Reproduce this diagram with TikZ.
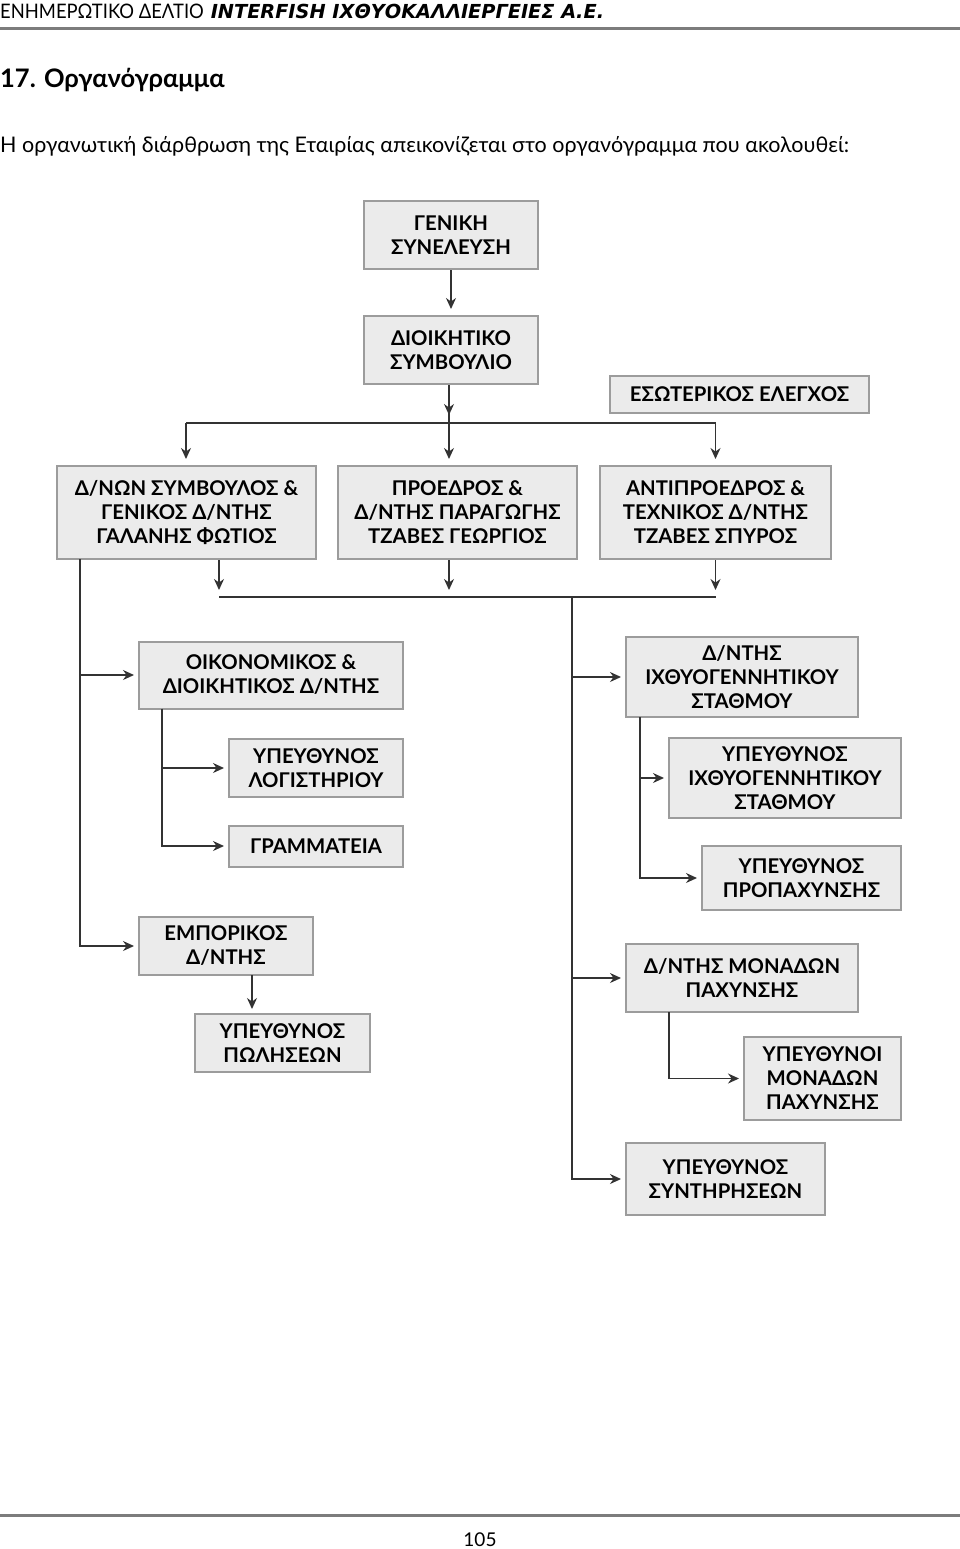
\documentclass[tikz,border=0pt]{standalone}
\usepackage{fontspec}
\setmainfont{Lato}
\newfontfamily\hdrfont{DejaVu Sans}
\newfontfamily\hdrnarrow[FakeStretch=0.92]{Lato}
\usetikzlibrary{arrows.meta,calc}

\definecolor{boxfill}{HTML}{EBEBEB}
\definecolor{boxline}{HTML}{9C9C9C}
\definecolor{wire}{HTML}{333333}
\definecolor{rulegray}{HTML}{7C7C7C}

\tikzset{
  unit/.style={draw=boxline, line width=2pt, fill=boxfill, align=center,
    inner sep=0pt, font=\bfseries\fontsize{20.3}{24}\selectfont},
  link/.style={-{Stealth[length=11pt,width=10pt]}, draw=wire, line width=1.4pt, shorten >=4pt},
  wireline/.style={draw=wire, line width=1.4pt}
}

\begin{document}
\begin{tikzpicture}[x=1pt, y=-1pt]
  \useasboundingbox (0,0) rectangle (960,1549);

  % page header and footer
  \node[anchor=west, inner sep=0pt] (hdr) at (0,11)
    {{\hdrnarrow\fontsize{20}{22}\selectfont ΕΝΗΜΕΡΩΤΙΚΟ ΔΕΛΤΙΟ}\enspace\kern2pt{\hdrfont\bfseries\itshape\fontsize{19.3}{22}\selectfont INTERFISH ΙΧΘΥΟΚΑΛΛΙΕΡΓΕΙΕΣ Α.Ε.}};
  \coordinate (rtl) at (0,29);
  \coordinate (rtr) at (960,29);
  \draw[rulegray, line width=3pt] (rtl) -- (rtr);
  \node[anchor=west, inner sep=0pt] (title) at (0,80)
    {\bfseries\fontsize{25.5}{30}\selectfont 17. Οργανόγραμμα};
  \node[anchor=west, inner sep=0pt] (intro) at (0,146)
    {\fontsize{21.5}{26}\selectfont Η οργανωτική διάρθρωση της Εταιρίας απεικονίζεται στο οργανόγραμμα που ακολουθεί:};
  \coordinate (rbl) at (0,1515);
  \coordinate (rbr) at (960,1515);
  \draw[rulegray, line width=3pt] (rbl) -- (rbr);
  \node[inner sep=0pt] (pageno) at (480,1540) {\fontsize{19}{22}\selectfont 105};

  % boxes
  \node[unit, minimum width=174pt, minimum height=68pt] (gs) at (451,235) {ΓΕΝΙΚΗ\\ΣΥΝΕΛΕΥΣΗ};
  \node[unit, minimum width=174pt, minimum height=68pt] (ds) at (451,350) {ΔΙΟΙΚΗΤΙΚΟ\\ΣΥΜΒΟΥΛΙΟ};
  \node[unit, minimum width=259pt, minimum height=37pt] (ee) at (739.5,394.5) {ΕΣΩΤΕΡΙΚΟΣ ΕΛΕΓΧΟΣ};

  \node[unit, minimum width=259pt, minimum height=93pt] (fotios) at (186.5,512.5)
    {Δ/ΝΩΝ ΣΥΜΒΟΥΛΟΣ \&\\ΓΕΝΙΚΟΣ Δ/ΝΤΗΣ\\ΓΑΛΑΝΗΣ ΦΩΤΙΟΣ};
  \node[unit, minimum width=239pt, minimum height=93pt] (georgios) at (457.5,512.5)
    {ΠΡΟΕΔΡΟΣ \&\\Δ/ΝΤΗΣ ΠΑΡΑΓΩΓΗΣ\\ΤΖΑΒΕΣ ΓΕΩΡΓΙΟΣ};
  \node[unit, minimum width=231pt, minimum height=93pt] (spyros) at (715.5,512.5)
    {ΑΝΤΙΠΡΟΕΔΡΟΣ \&\\ΤΕΧΝΙΚΟΣ Δ/ΝΤΗΣ\\ΤΖΑΒΕΣ ΣΠΥΡΟΣ};

  \node[unit, minimum width=264pt, minimum height=67pt] (oikon) at (271,675) {ΟΙΚΟΝΟΜΙΚΟΣ \&\\ΔΙΟΙΚΗΤΙΚΟΣ Δ/ΝΤΗΣ};
  \node[unit, minimum width=174pt, minimum height=58pt] (logist) at (316,768) {ΥΠΕΥΘΥΝΟΣ\\ΛΟΓΙΣΤΗΡΙΟΥ};
  \node[unit, minimum width=174pt, minimum height=41pt] (gramm) at (316,846) {ΓΡΑΜΜΑΤΕΙΑ};
  \node[unit, minimum width=174pt, minimum height=58pt] (empor) at (226,946) {ΕΜΠΟΡΙΚΟΣ\\Δ/ΝΤΗΣ};
  \node[unit, minimum width=175pt, minimum height=58pt] (poliseon) at (282.5,1043) {ΥΠΕΥΘΥΝΟΣ\\ΠΩΛΗΣΕΩΝ};

  \node[unit, minimum width=232pt, minimum height=80pt] (ichthyo) at (742,677) {Δ/ΝΤΗΣ\\ΙΧΘΥΟΓΕΝΝΗΤΙΚΟΥ\\ΣΤΑΘΜΟΥ};
  \node[unit, minimum width=232pt, minimum height=80pt] (ypichthyo) at (785,778) {ΥΠΕΥΘΥΝΟΣ\\ΙΧΘΥΟΓΕΝΝΗΤΙΚΟΥ\\ΣΤΑΘΜΟΥ};
  \node[unit, minimum width=199pt, minimum height=64pt] (propach) at (801.5,878) {ΥΠΕΥΘΥΝΟΣ\\ΠΡΟΠΑΧΥΝΣΗΣ};
  \node[unit, minimum width=232pt, minimum height=68pt] (monades) at (742,978) {Δ/ΝΤΗΣ ΜΟΝΑΔΩΝ\\ΠΑΧΥΝΣΗΣ};
  \node[unit, minimum width=157pt, minimum height=83pt] (ypmonades) at (822.5,1078.5) {ΥΠΕΥΘΥΝΟΙ\\ΜΟΝΑΔΩΝ\\ΠΑΧΥΝΣΗΣ};
  \node[unit, minimum width=199pt, minimum height=72pt] (syntir) at (725.5,1179) {ΥΠΕΥΘΥΝΟΣ\\ΣΥΝΤΗΡΗΣΕΩΝ};

  % top of the tree
  \coordinate (tbl) at (186,423);
  \coordinate (tbm) at (449,423);
  \coordinate (tbr) at (715.5,423);
  \draw[link, shorten >=6pt] (gs.south) -- (ds.north);
  \draw[wireline] (ds.south -| tbm) -- (tbm);
  \draw[link, shorten >=8pt] (ds.south -| tbm) -- (tbm);
  \draw[wireline] (tbl) -- (tbr);
  \draw[link, shorten >=6pt] (tbl) -- (tbl |- fotios.north);
  \draw[link, shorten >=6pt] (tbm) -- (tbm |- georgios.north);
  \draw[link, shorten >=6pt] (tbr) -- (spyros.north);

  % lower bus
  \coordinate (bbl) at (219,597);
  \coordinate (bbm) at (449,597);
  \coordinate (bbr) at (715.5,597);
  \coordinate (rtrunk) at (572,597);
  \draw[link, shorten >=7pt] (fotios.south -| bbl) -- (bbl);
  \draw[link, shorten >=7pt] (georgios.south -| bbm) -- (bbm);
  \draw[link, shorten >=7pt] (spyros.south) -- (bbr);
  \draw[wireline] (bbl) -- (bbr);

  % left branch
  \coordinate (ltrunk) at (80,559);
  \draw[link] (ltrunk) |- (empor.west);
  \draw[link] (ltrunk |- oikon.west) -- (oikon.west);
  \coordinate (osub) at (162,708.5);
  \draw[link] (osub) |- (gramm.west);
  \draw[link] (osub |- logist.west) -- (logist.west);
  \coordinate (esub) at (252,975);
  \draw[link] (esub) -- (esub |- poliseon.north);

  % right branch
  \draw[link] (rtrunk) |- (syntir.west);
  \draw[link] (rtrunk |- ichthyo.west) -- (ichthyo.west);
  \draw[link] (rtrunk |- monades.west) -- (monades.west);
  \coordinate (isub) at (640,717);
  \draw[link] (isub) |- (propach.west);
  \draw[link] (isub |- ypichthyo.west) -- (ypichthyo.west);
  \coordinate (msub) at (669,1012);
  \draw[link] (msub) |- (ypmonades.west);
\end{tikzpicture}
\end{document}
